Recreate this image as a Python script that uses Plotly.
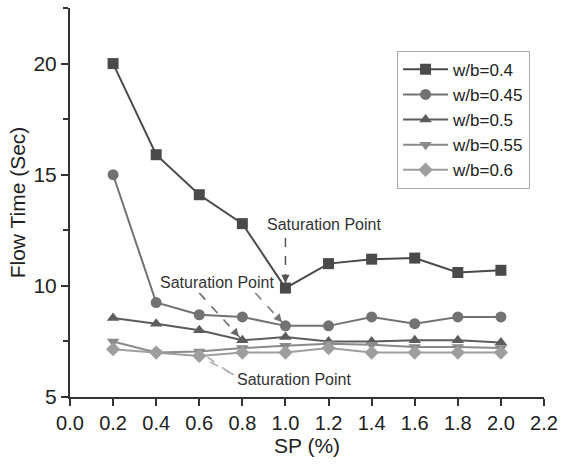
import plotly.graph_objects as go

# ---- data ----
sp = [0.2, 0.4, 0.6, 0.8, 1.0, 1.2, 1.4, 1.6, 1.8, 2.0]
wb_040 = [20.0, 15.9, 14.1, 12.8, 9.9, 11.0, 11.2, 11.25, 10.6, 10.7]
wb_045 = [15.0, 9.25, 8.7, 8.6, 8.2, 8.2, 8.6, 8.3, 8.6, 8.6]
wb_050 = [8.55, 8.3, 8.0, 7.55, 7.7, 7.5, 7.5, 7.55, 7.55, 7.45]
wb_055 = [7.5, 7.0, 7.05, 7.2, 7.3, 7.4, 7.35, 7.25, 7.25, 7.2]
wb_060 = [7.15, 7.0, 6.85, 7.0, 7.0, 7.2, 7.0, 7.0, 7.0, 7.0]
series_names = ["w/b=0.4", "w/b=0.45", "w/b=0.5", "w/b=0.55", "w/b=0.6"]
x_ticks = [0.0, 0.2, 0.4, 0.6, 0.8, 1.0, 1.2, 1.4, 1.6, 1.8, 2.0, 2.2]
y_ticks = [5, 10, 15, 20]

series = [wb_040, wb_045, wb_050, wb_055, wb_060]
colors = ["#4a4a4a", "#727272", "#5c5c5c", "#8a8a8a", "#9e9e9e"]
symbols = ["square", "circle", "triangle-up", "triangle-down", "diamond"]

FONT = "Arial, 'Liberation Sans', sans-serif"

fig = go.Figure()
for name, ys, c, s in zip(series_names, series, colors, symbols):
    fig.add_trace(go.Scatter(
        x=sp, y=ys, name=name, mode="lines+markers",
        line=dict(color=c, width=2),
        marker=dict(symbol=s, size=11, color=c),
    ))

shapes = []
annotations = []


def arrow(x0, y0, x1, y1, color):
    shapes.append(dict(type="line", xref="x", yref="y", x0=x0, y0=y0, x1=x1, y1=y1,
                       line=dict(color=color, width=1.5, dash="dash"), layer="below"))
    annotations.append(dict(x=x1, y=y1, ax=x1 - 0.22 * (x1 - x0), ay=y1 - 0.22 * (y1 - y0),
                            xref="x", yref="y", axref="x", ayref="y", text="",
                            showarrow=True, arrowhead=2, arrowsize=1.1, arrowwidth=1.5,
                            arrowcolor=color, standoff=5))


def label(x, y):
    annotations.append(dict(x=x, y=y, xref="x", yref="y", text="Saturation Point",
                            showarrow=False, font=dict(family=FONT, size=16, color="#333333")))


# annotation 1 -> w/b=0.4 at SP=1.0
label(1.18, 12.75)
arrow(1.0, 12.15, sp[4], wb_040[4], "#555555")
# annotation 2 -> w/b=0.5 at 0.8 and w/b=0.45 at 1.0
label(0.68, 10.13)
arrow(0.60, 9.68, sp[3], wb_050[3], "#666666")
arrow(0.86, 9.68, sp[4], wb_045[4], "#777777")
# annotation 3 -> w/b=0.55 and w/b=0.6 at SP=0.6
label(1.04, 5.8)
arrow(0.74, 6.10, sp[2], wb_055[2], "#aaaaaa")
arrow(0.76, 6.00, sp[2], wb_060[2], "#aaaaaa")

fig.update_layout(
    width=566, height=467,
    margin=dict(l=70, r=15, t=8, b=70),
    paper_bgcolor="white", plot_bgcolor="white",
    font=dict(family=FONT, color="#222222"),
    shapes=shapes, annotations=annotations,
    legend=dict(x=0.69, y=0.89, xanchor="left", yanchor="top",
                bordercolor="#aaaaaa", borderwidth=1, bgcolor="white",
                font=dict(family=FONT, size=17, color="#222222"),
                itemwidth=45, tracegroupgap=0),
    xaxis=dict(range=[0, 2.2], tickvals=x_ticks, tickformat=".1f",
               showgrid=False, zeroline=False, showline=True, linecolor="#333333", linewidth=2,
               ticks="outside", ticklen=7, tickwidth=1.5, tickcolor="#333333",
               tickfont=dict(size=20, color="#222222"),
               title=dict(text="SP (%)", font=dict(size=21, color="#222222"), standoff=3)),
    yaxis=dict(range=[5, 22.5], tickvals=y_ticks,
               showgrid=False, zeroline=False, showline=True, linecolor="#333333", linewidth=2,
               ticks="outside", ticklen=7, tickwidth=1.5, tickcolor="#333333",
               minor=dict(tick0=5, dtick=2.5, ticks="outside", ticklen=5, tickwidth=1.5,
                          tickcolor="#333333", showgrid=False),
               tickfont=dict(size=21, color="#222222"),
               title=dict(text="Flow Time (Sec)", font=dict(size=21, color="#222222"), standoff=2)),
)

fig.write_html("out.html")
